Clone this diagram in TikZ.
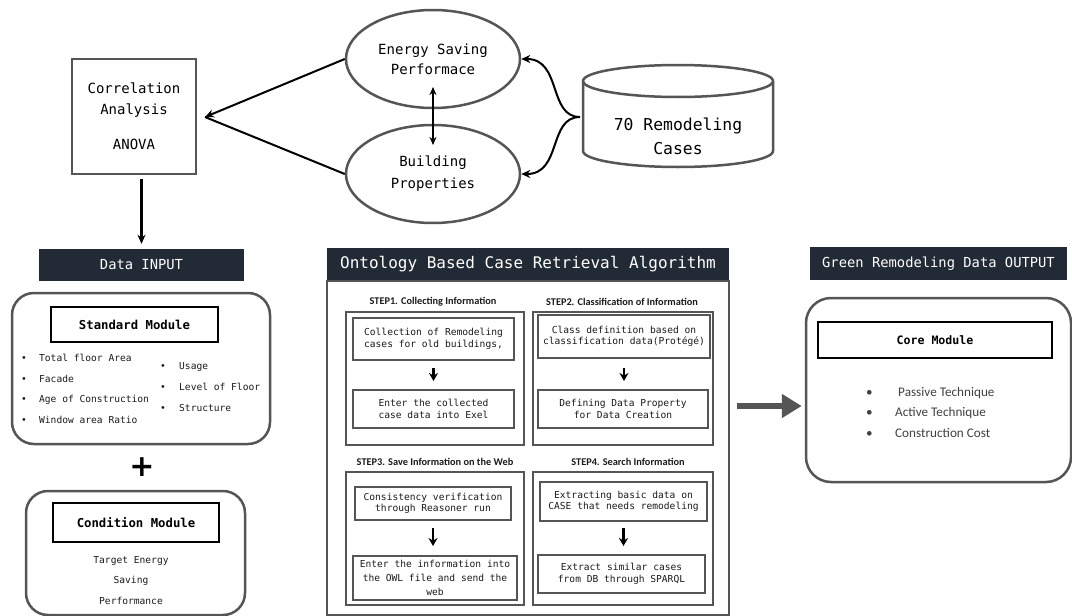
\documentclass[tikz,border=0pt]{standalone}
\usepackage{fontspec}
\usetikzlibrary{arrows.meta,shapes.geometric,calc}
\newfontfamily\monof{DejaVu Sans Mono}
\newfontfamily\calf{Carlito}
\newfontfamily\dsans{DejaVu Sans}
\definecolor{barc}{HTML}{222A35}
\definecolor{linec}{HTML}{555555}
\definecolor{txtc}{HTML}{1A1A1A}
\begin{document}
\begin{tikzpicture}[x=1pt,y=-1pt,
  titlebar/.style={fill=barc,text=white,inner sep=0pt,font=\fontsize{13.8}{16}\monof},
  bigtext/.style={font=\fontsize{14}{20}\monof,align=center},
  ell/.style={ellipse,draw=linec,line width=2.5pt,minimum width=174pt,minimum height=98pt,inner sep=0pt,bigtext},
  roundbox/.style={draw=linec,line width=2.5pt,rounded corners=22pt,inner sep=0pt},
  modbox/.style={draw=black,line width=2pt,inner sep=0pt,font=\fontsize{12.3}{14}\monof\bfseries},
  frame/.style={draw=linec,line width=2pt,inner sep=0pt},
  stepbox/.style={draw=linec,line width=2pt,inner sep=0pt,align=center,font=\fontsize{9.6}{11.5}\monof,text=txtc},
  steplabel/.style={font=\fontsize{10.3}{11}\calf\bfseries,text=txtc},
  bul/.style={anchor=west,inner sep=0pt,font=\fontsize{9.6}{11}\monof,text=txtc},
  obul/.style={anchor=west,inner sep=0pt,font=\fontsize{13.2}{15}\calf,text=black!75},
  conn/.style={line width=2pt,-{Stealth[length=9pt,width=8pt]}},
  sconn/.style={line width=2.2pt,-{Stealth[length=8pt,width=9pt]}}
]
\useasboundingbox (0,0) rectangle (1072,616);

% top part
\node[draw=linec,line width=2pt,minimum width=124pt,minimum height=115pt,inner sep=0pt,
      font=\fontsize{14}{21}\monof,align=center] (corr) at (134,116.5)
      {Correlation\\Analysis\\[14pt]ANOVA};
\node[ell] (es) at (433,59) {Energy Saving\\Performace};
\node[ell,font=\fontsize{14}{22}\monof] (bs) at (433,174) {Building\\Properties};

% cylinder
\draw[draw=linec,line width=2.5pt,fill=white] (583,81) -- (583,151) arc[start angle=180,end angle=360,x radius=95,y radius=-16] -- (773,81);
\draw[draw=linec,line width=2.5pt] (678,81) ellipse[x radius=95,y radius=16];
\node[font=\fontsize{16.4}{24}\monof,align=center] (cyltext) at (678,136) {70 Remodeling\\Cases};
\coordinate (cyl) at (580,117);
\coordinate (ctip) at (205,117);

\draw[conn] (es.west) -- (ctip);
\draw[line width=2pt] (bs.west) -- (ctip);
\coordinate (dA) at (433,87);
\coordinate (dB) at (433,145);
\draw[line width=2pt,{Stealth[length=8pt,width=7pt]}-{Stealth[length=8pt,width=7pt]}] (dA) -- (dB);
\draw[conn] (cyl) .. controls (548,117) and (562,59) .. (es.east);
\draw[conn] (cyl) .. controls (548,117) and (562,174) .. (bs.east);

% Data INPUT
\node[titlebar,minimum width=205pt,minimum height=32pt] (din) at (141.5,265) {Data INPUT};
\draw[conn,line width=2.4pt,shorten <=4pt,shorten >=5pt] (din.north |- corr.south) -- (din.north);

\node[roundbox,minimum width=258pt,minimum height=151pt] (std) at (141,368.5) {};
\node[modbox,minimum width=167pt,minimum height=35pt] (stdt) at (134.5,324.5) {Standard Module};
\node[bul] (s1) at (21,358) {\makebox[18pt][l]{•}Total floor Area};
\node[bul] (s2) at (21,379) {\makebox[18pt][l]{•}Facade};
\node[bul] (s3) at (21,400) {\makebox[18pt][l]{•}Age of Construction};
\node[bul] (s4) at (21,420) {\makebox[18pt][l]{•}Window area Ratio};
\node[bul] (s5) at (160,367) {\makebox[19pt][l]{•}Usage};
\node[bul] (s6) at (160,387) {\makebox[19pt][l]{•}Level of  Floor};
\node[bul] (s7) at (160,408) {\makebox[19pt][l]{•}Structure};

\node[font=\fontsize{30}{30}\dsans\bfseries] (plus) at (142,467) {+};

\node[roundbox,minimum width=219pt,minimum height=124pt] (cond) at (135.5,553) {};
\node[modbox,minimum width=166pt,minimum height=39pt] (condt) at (136,522.5) {Condition Module};
\node[bul,anchor=center] (c1) at (131,561) {Target Energy};
\node[bul,anchor=center] (c2) at (131,581) {Saving};
\node[bul,anchor=center] (c3) at (131,601) {Performance};

% Ontology
\node[titlebar,font=\fontsize{16}{18}\monof,minimum width=402pt,minimum height=33pt] (ontt) at (528,264.5) {Ontology Based Case Retrieval Algorithm};
\node[frame,minimum width=402pt,minimum height=334pt] (ont) at (528,448) {};

\node[frame,minimum width=178pt,minimum height=133pt] (f1) at (435,378.5) {};
\node[frame,minimum width=180pt,minimum height=133pt] (f2) at (623,378.5) {};
\node[frame,minimum width=178pt,minimum height=133pt] (f3) at (435,538.5) {};
\node[frame,minimum width=180pt,minimum height=133pt] (f4) at (623,538.5) {};

\node[steplabel] (l1) at (433,302) {STEP1. Collecting Information};
\node[steplabel] (l2) at (622,302) {STEP2. Classification of Information};
\node[steplabel] (l3) at (435,462) {STEP3. Save Information on the Web};
\node[steplabel] (l4) at (628,462) {STEP4. Search Information};

\node[stepbox,minimum width=161pt,minimum height=42pt] (b11) at (433.5,339) {Collection of Remodeling\\cases for old buildings,};
\node[stepbox,minimum width=161pt,minimum height=38pt] (b12) at (433.5,409) {Enter the collected\\case data into Exel};
\node[stepbox,minimum width=172pt,minimum height=43pt] (b21) at (624,336.5) {Class definition based on\\classification data(Protégé)};
\node[stepbox,minimum width=170pt,minimum height=38pt] (b22) at (623,409) {Defining Data Property\\for Data Creation};
\node[stepbox,minimum width=156pt,minimum height=33pt] (b31) at (433,503.5) {Consistency verification\\through Reasoner run};
\node[stepbox,minimum width=164pt,minimum height=44pt,font=\fontsize{9.6}{14}\monof] (b32) at (435,578) {Enter the information into\\the OWL file and send the\\web};
\node[stepbox,minimum width=167pt,minimum height=39pt] (b41) at (623.5,501.5) {Extracting basic data on\\CASE that needs remodeling};
\node[stepbox,minimum width=167pt,minimum height=38pt] (b42) at (621.5,574) {Extract similar cases\\from DB through SPARQL};

\draw[sconn,shorten <=7pt,shorten >=8pt] (b11.south) -- (b11.south |- b12.north);
\draw[sconn,shorten <=9pt,shorten >=8pt] (b21.south) -- (b21.south |- b22.north);
\draw[sconn,shorten <=7pt,shorten >=9pt] (b31.south) -- (b31.south |- b32.north);
\draw[sconn,shorten <=6pt,shorten >=8pt] (b41.south) -- (b41.south |- b42.north);

% Output
\node[titlebar,minimum width=257pt,minimum height=33pt] (outt) at (938.5,263.5) {Green Remodeling Data OUTPUT};
\node[roundbox,rounded corners=25pt,minimum width=265pt,minimum height=184pt] (out) at (938.5,390) {};
\node[modbox,font=\fontsize{11.6}{13}\monof\bfseries,minimum width=234pt,minimum height=36pt] (core) at (935,340) {Core Module};
\node[obul] (o1) at (866,393) {\makebox[32pt][l]{•}Passive Technique};
\node[obul] (o2) at (866,413) {\makebox[29pt][l]{•}Active Technique};
\node[obul] (o3) at (866,433) {\makebox[29pt][l]{•}Construction Cost};

\coordinate (gA) at (737,406);
\draw[draw=linec,line width=6pt,-{Triangle[length=20pt,width=23pt]},shorten >=3pt] (gA) -- (out.west |- gA);
\end{tikzpicture}
\end{document}
